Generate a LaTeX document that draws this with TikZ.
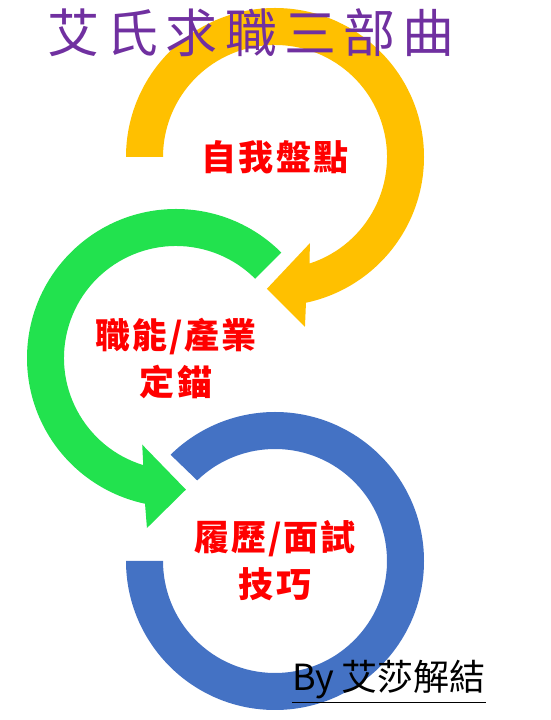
\documentclass[tikz,border=0pt]{standalone}
\usepackage{fontspec}
\usepackage{tikz}
\usepackage{xcolor}
\newfontfamily\cjk{Noto Sans CJK TC}
\newfontfamily\cjktitle{Noto Sans CJK TC}[LetterSpace=14]
\newfontfamily\cjkstage{Noto Sans CJK TC}[LetterSpace=6]

\definecolor{ringyellow}{HTML}{FFC000}
\definecolor{ringgreen}{HTML}{22E24E}
\definecolor{ringblue}{HTML}{4472C4}
\definecolor{titlepurple}{HTML}{7030A0}

\begin{document}
\begin{tikzpicture}[
    x = 1pt, y = 1pt,
    stage/.style = {align=center, text=red, inner sep=0pt,
      font=\cjkstage\bfseries\fontsize{35}{47}\selectfont},
    title/.style = {text=titlepurple, inner sep=0pt,
      font=\cjktitle\fontsize{52}{60}\selectfont},
    credit/.style = {inner sep=0pt, font=\cjk\fontsize{36}{40}\selectfont}
  ]
  \useasboundingbox (0,0) rectangle (551,720);

  \coordinate (Y) at (275,563);
  \coordinate (G) at (176,362);
  \coordinate (B) at (275,159);

  % yellow arrow, clockwise
  \fill[ringyellow, shift={(Y)}] (180:149)
    arc[start angle=180, end angle=-78, radius=149]
    -- (-80:172.5) -- (-93.5:132) -- (-68:93) -- (-72:112)
    arc[start angle=-72, end angle=180, radius=112] -- cycle;

  % green arrow, counterclockwise
  \fill[ringgreen, shift={(G)}] (45:149)
    arc[start angle=45, end angle=258, radius=149]
    -- (260.3:172.5) -- (274.3:132) -- (248.7:93) -- (253:112)
    arc[start angle=253, end angle=45, radius=112] -- cycle;

  % blue ring
  \fill[ringblue, shift={(B)}] (180:149)
    arc[start angle=180, end angle=494.5, radius=149]
    -- (494:112)
    arc[start angle=494, end angle=180, radius=112] -- cycle;

  \node[stage] (self) at (Y) {自我盤點};
  \node[stage] (anchor) at (G) {職能/產業\\定錨};
  \node[stage] (resume) at (B) {履歷/面試\\技巧};

  \node[title] (head) at (251,687) {艾氏求職三部曲};

  \node[credit] (by) at (389,40) {By 艾莎解結};
  \draw[line width=1.5pt] ([yshift=-3pt]by.south west) -- ([yshift=-3pt]by.south east);

\end{tikzpicture}
\end{document}
